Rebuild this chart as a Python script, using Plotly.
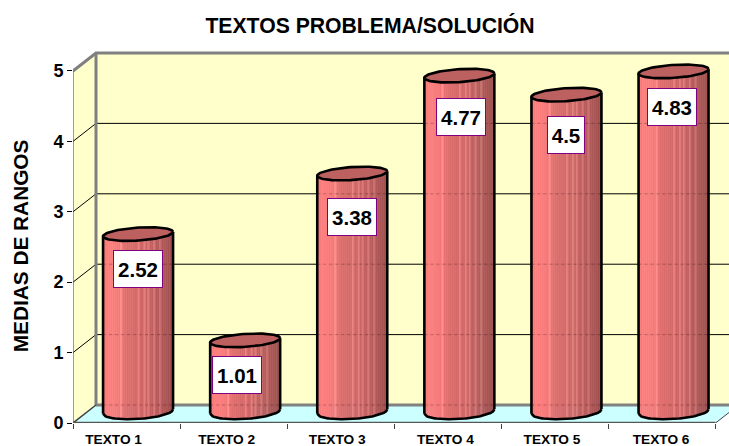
import numpy as np
import plotly.graph_objects as go

# ---------- data ----------
categories = ["TEXTO 1", "TEXTO 2", "TEXTO 3", "TEXTO 4", "TEXTO 5", "TEXTO 6"]
values = [2.52, 1.01, 3.38, 4.77, 4.5, 4.83]
value_labels = ["2.52", "1.01", "3.38", "4.77", "4.5", "4.83"]
y_ticks = [0, 1, 2, 3, 4, 5]
title_text = "TEXTOS PROBLEMA/SOLUCIÓN"
y_title = "MEDIAS DE RANGOS"

# ---------- geometry (pixels per data unit and pseudo-3D depth) ----------
W, H = 729, 446
ML, MT, MB = 73, 40, 22.5
PX_X = 107.1
PX_Y = 70.5
DX, DY = 23 / PX_X, 18 / PX_Y
xmax = (W - ML) / PX_X
ymax = (H - MT - MB) / PX_Y
n = len(categories)
RX = 35 / PX_X
RY_TOP = 6.5 / PX_Y
RY_BOT = 7.5 / PX_Y
SHEAR = 2.2 / PX_Y
label_dx = [0, -8, 0, 2, 0, -2]
label_dy = [-35, -35, -43, -41, -40, -36]
label_w = [46, 46, 46, 46, 34, 46]
tick_shift = [-13, -7, -3.5, -2.5, -3, -1]

fig = go.Figure()


def poly(xs, ys, fill=None, line=None, lw=1, dash=None):
    fig.add_trace(go.Scatter(
        x=xs, y=ys, mode="lines", hoverinfo="skip", showlegend=False,
        fill="toself" if fill else "none", fillcolor=fill,
        line=dict(color=line or "rgba(0,0,0,0)", width=lw if line else 0, dash=dash),
    ))


# walls and floor
TOP = y_ticks[-1]
poly([DX, xmax, xmax, DX], [DY, DY, TOP + DY, TOP + DY], fill="#FFFFCC")
poly([0, DX, DX, 0], [0, DY, TOP + DY, TOP], fill="#FFFFCC")
floor_x = [0, DX, xmax, xmax, n]
floor_y = [0, DY, DY, (xmax - n) * DY / DX, 0]
poly(floor_x, floor_y, fill="#CCFFFF")

# gridlines
for t in y_ticks[1:-1]:
    poly([0, DX, xmax], [t, t + DY, t + DY], line="#000000", lw=1)

# wall edges
GREY = "#808080"
poly([0, DX, xmax], [TOP, TOP + DY, TOP + DY], line=GREY, lw=3)
poly([DX, DX], [DY, TOP + DY], line=GREY, lw=3)
poly([DX, xmax], [DY, DY], line=GREY, lw=3)
poly([0, 0], [0, TOP], line="#404040", lw=1)
poly([0, DX], [0, DY], line="#404040", lw=1.5)
poly([n, xmax], [0, (xmax - n) * DY / DX], line="#404040", lw=1)
poly([0, n], [0, 0], line="#555555", lw=2.5)

# cylinders: shaded strips grouped by shade
N = 36
edges = np.linspace(-1, 1, N + 1)
centers = [i + 0.5 + DX / 2 for i in range(n)]
base = DY * 0.64


def shade(t):
    stops = [(0, (232, 116, 116)), (.06, (255, 128, 128)), (.2, (248, 124, 124)),
             (.35, (222, 110, 110)), (.6, (204, 102, 102)), (.8, (182, 92, 92)), (1, (158, 80, 80))]
    for (a, ca), (b, cb) in zip(stops, stops[1:]):
        if t <= b:
            f = (t - a) / (b - a)
            return [ca[k] + (cb[k] - ca[k]) * f for k in range(3)]
    return list(stops[-1][1])


light = {9, 18, 21, 23, 26, 29}
for j in range(N):
    a, b = edges[j], edges[j + 1]
    c = shade((j + .5) / N)
    if j in light:
        c = [min(255, v + 24) for v in c]
    xs, ys = [], []
    for cx, v in zip(centers, values):
        us = np.linspace(a, b, 4)
        low = base - RY_BOT * np.sqrt(np.clip(1 - us ** 2, 0, 1)) + SHEAR * us
        xs += list(cx + us * RX) + [cx + b * RX, cx + a * RX, cx + a * RX, None]
        ys += list(low) + [base + v, base + v, low[0], None]
    poly(xs, ys, fill="rgb(%d,%d,%d)" % tuple(c), line="rgb(%d,%d,%d)" % tuple(c), lw=0.6)

# faint see-through of the back lines across the cylinders
for t in y_ticks[:-1]:
    for cx, v in zip(centers, values):
        if t + DY < base + v:
            poly([cx - RX, cx + RX], [t + DY, t + DY], line="rgba(0,0,0,0.22)", lw=1, dash="dot")

th = np.linspace(0, 2 * np.pi, 90)
arc = np.linspace(-1, 1, 60)
for cx, v in zip(centers, values):
    low = base - RY_BOT * np.sqrt(1 - arc ** 2) + SHEAR * arc
    poly(list(cx + arc * RX), list(low), line="#000000", lw=2.6)
    poly([cx - RX, cx - RX], [base - SHEAR, base + v - SHEAR], line="#000000", lw=2.6)
    poly([cx + RX, cx + RX], [base + SHEAR, base + v + SHEAR], line="#000000", lw=2.6)
    poly(list(cx + RX * np.cos(th)),
         list(base + v + RY_TOP * np.sin(th) + SHEAR * np.cos(th)),
         fill="#BD6060", line="#000000", lw=2.6)

# value labels
for cx, v, txt, dx, dy, w in zip(centers, values, value_labels, label_dx, label_dy, label_w):
    fig.add_annotation(x=cx, y=base + v, text="<b>%s</b>" % txt, showarrow=False,
                       xshift=dx, yshift=dy, width=w, height=34, bgcolor="#FFFFFF",
                       bordercolor="#800080", borderwidth=1, borderpad=1,
                       font=dict(family="Liberation Sans", size=20.5, color="#000000"))

# y axis title, placed off the plot's centre as in the reference
fig.add_annotation(xref="paper", yref="paper",
                   x=(20 - ML) / (W - ML), y=(H - MB - 246.5) / (H - MT - MB),
                   xanchor="center", yanchor="middle", textangle=-90, showarrow=False,
                   text="<b>%s</b>" % y_title,
                   font=dict(family="Liberation Sans", size=20.8, color="#000000"))

fig.update_layout(
    width=W, height=H, autosize=False,
    margin=dict(l=ML, r=0, t=MT, b=MB, pad=0),
    paper_bgcolor="#FFFFFF", plot_bgcolor="#FFFFFF",
    showlegend=False,
    title=dict(text="<b>%s</b>" % title_text, x=370 / W, xanchor="center",
               y=1 - 26 / H, yanchor="middle",
               font=dict(family="Liberation Sans", size=21.2, color="#000000")),
    xaxis=dict(range=[0, xmax], showgrid=False, zeroline=False, showline=False,
               automargin=False,
               tickmode="array",
               tickvals=[i + 0.5 + s / PX_X for i, s in enumerate(tick_shift)],
               ticktext=["<b>%s</b>" % c for c in categories],
               ticks="", ticklabelstandoff=6,
               tickfont=dict(family="Liberation Sans", size=13.7, color="#000000"),
               minor=dict(tickmode="array", tickvals=list(range(n + 1)), ticks="outside",
                          ticklen=5, tickwidth=1, tickcolor="#404040", showgrid=False)),
    yaxis=dict(range=[0, ymax], showgrid=False, zeroline=False, showline=False,
               automargin=False,
               tickmode="array", tickvals=y_ticks,
               ticktext=["<b>%d</b>" % t for t in y_ticks],
               ticks="outside", ticklen=5, tickwidth=1, tickcolor="#000000",
               tickfont=dict(family="Liberation Sans", size=18, color="#000000")),
)

fig.write_html("out.html", config={"displayModeBar": False},
               post_script="document.body.style.margin='0';")
